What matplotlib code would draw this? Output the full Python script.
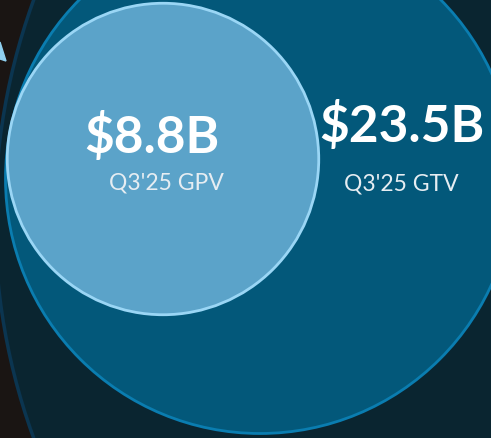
import matplotlib.pyplot as plt
from matplotlib.patches import Circle, Polygon
import numpy as np

# values (billions) and labels
labels = ["Q3'25 GPV", "Q3'25 GTV"]
values = [8.8, 23.5]
value_text = ["$8.8B", "$23.5B"]
fills = ["#5ba3c9", "#03587a"]
edges = ["#9ad6f5", "#0a7db0"]

# layout (pixels)
centers = [(163, 160), (260, 180)]
scale = 52.5  # radius per sqrt(value)

fig = plt.figure(figsize=(4.91, 4.39), dpi=100)
fig.patch.set_facecolor("#1a1513")
ax = fig.add_axes([0, 0, 1, 1])
ax.set_xlim(0, 491)
ax.set_ylim(439, 0)
ax.set_aspect("equal")
ax.axis("off")

# big background circle
ax.add_patch(Circle((635, 220), 640, facecolor="#0a2530", edgecolor="#0b3550", lw=2.5))
# small light wedge top-left
ax.add_patch(Polygon([(0, 43), (6, 62), (0, 60)], closed=True, color="#8fd0f0"))

# draw larger first
for i in [1, 0]:
    r = scale * np.sqrt(values[i])
    ax.add_patch(Circle(centers[i], r, facecolor=fills[i], edgecolor=edges[i], lw=2))

plt.rcParams['font.family'] = ['Lato', 'DejaVu Sans']
ax.text(152, 137, value_text[0], color="white", fontsize=37, fontweight="bold", ha="center", va="center")
ax.text(166, 183, labels[0], color="#e6edf2", fontsize=16.5, ha="center", va="center")
ax.text(402, 126, value_text[1], color="white", fontsize=37, fontweight="bold", ha="center", va="center")
ax.text(401, 184, labels[1], color="#e6edf2", fontsize=16.5, ha="center", va="center")

fig.savefig("out.png", dpi=100, facecolor=fig.get_facecolor())
